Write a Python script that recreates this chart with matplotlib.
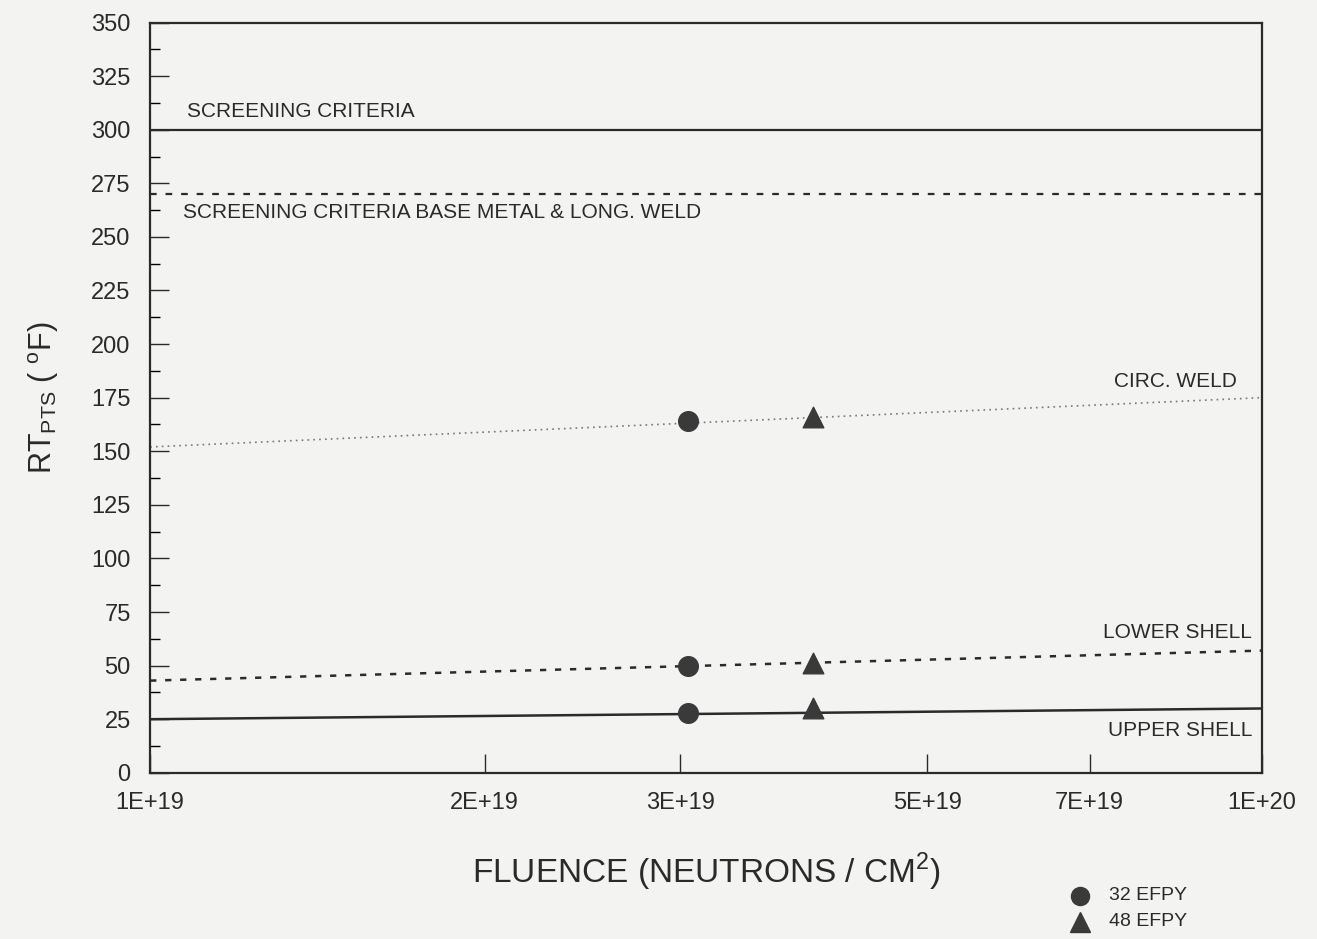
import matplotlib
matplotlib.use("Agg")
import matplotlib.pyplot as plt
from matplotlib.ticker import FixedLocator, MultipleLocator
import numpy as np

plt.rcParams['font.family'] = ['Liberation Sans Narrow', 'Liberation Sans', 'DejaVu Sans']

# fluence range and line end points (value at 1E+19, value at 1E+20)
fluence_ends = [1e19, 1e20]
screening = [300, 300]
screening_base = [270, 270]
circ_weld = [152, 175]
lower_shell = [43, 57]
upper_shell = [25, 30]

# 32 EFPY and 48 EFPY points
fluence_32 = 3.05e19
fluence_48 = 3.95e19
rt_32 = [164, 50, 28]
rt_48 = [166, 51, 30]

xticks = [1e19, 2e19, 3e19, 5e19, 7e19, 1e20]
xtick_labels = ['1E+19', '2E+19', '3E+19', '5E+19', '7E+19', '1E+20']

bg = '#f3f3f1'
ink = '#2a2a2a'

fig = plt.figure(figsize=(13.17, 9.39), dpi=100, facecolor=bg)
ax = fig.add_axes([0.114, 0.177, 0.844, 0.799], facecolor=bg)

ax.plot(fluence_ends, screening, color=ink, lw=1.6)
ax.plot(fluence_ends, screening_base, color=ink, lw=1.6, ls=(0, (3, 4)))
ax.plot(fluence_ends, circ_weld, color='#777777', lw=1.2, ls=(0, (1, 2.5)))
ax.plot(fluence_ends, lower_shell, color=ink, lw=1.8, ls=(0, (2.5, 3.5)))
ax.plot(fluence_ends, upper_shell, color=ink, lw=1.8)

ax.scatter([fluence_32] * 3, rt_32, marker='o', s=200, color='#3a3a3a', zorder=5)
ax.scatter([fluence_48] * 3, rt_48, marker='^', s=220, color='#3a3a3a', zorder=5)

ax.set_xscale('log')
ax.set_xlim(1e19, 1e20)
ax.set_ylim(0, 350)
ax.xaxis.set_major_locator(FixedLocator(xticks))
ax.xaxis.set_minor_locator(FixedLocator([]))
ax.set_xticklabels(xtick_labels)
ax.yaxis.set_major_locator(MultipleLocator(25))
ax.yaxis.set_minor_locator(MultipleLocator(12.5))
ax.tick_params(axis='x', direction='in', length=14, width=1, pad=14, labelsize=17, colors=ink)
ax.tick_params(axis='y', which='major', direction='in', length=14, width=1, pad=14, labelsize=17, colors=ink)
ax.tick_params(axis='y', which='minor', direction='in', length=7, width=1)
for s in ax.spines.values():
    s.set_color(ink)
    s.set_linewidth(1.6)

tk = dict(color=ink, fontsize=15)
ax.text(1.08e19, 304, 'SCREENING CRITERIA', va='bottom', **tk)
ax.text(1.07e19, 266, 'SCREENING CRITERIA BASE METAL & LONG. WELD', va='top', **tk)
ax.text(9.5e19, 178, 'CIRC. WELD', ha='right', va='bottom', **tk)
ax.text(9.8e19, 61, 'LOWER SHELL', ha='right', va='bottom', **tk)
ax.text(9.8e19, 24, 'UPPER SHELL', ha='right', va='top', **tk)

ax.set_ylabel('RT$_{\\mathregular{PTS}}$ ( $^{\\mathregular{o}}$F)', fontsize=22, color=ink, labelpad=22)
ax.set_xlabel('FLUENCE (NEUTRONS / CM$^{\\mathregular{2}}$)', fontsize=24, color=ink, labelpad=26)

# legend below the axes, right side
fig.lines.append(plt.Line2D([0.82], [1 - 896 / 939], marker='o', ms=13, color='#3a3a3a', transform=fig.transFigure))
fig.lines.append(plt.Line2D([0.82], [1 - 922 / 939], marker='^', ms=14, color='#3a3a3a', transform=fig.transFigure))
fig.text(0.842, 1 - 896 / 939, '32 EFPY', va='center', fontsize=14, color=ink)
fig.text(0.842, 1 - 922 / 939, '48 EFPY', va='center', fontsize=14, color=ink)

fig.savefig('out.png', dpi=100, facecolor=bg)
